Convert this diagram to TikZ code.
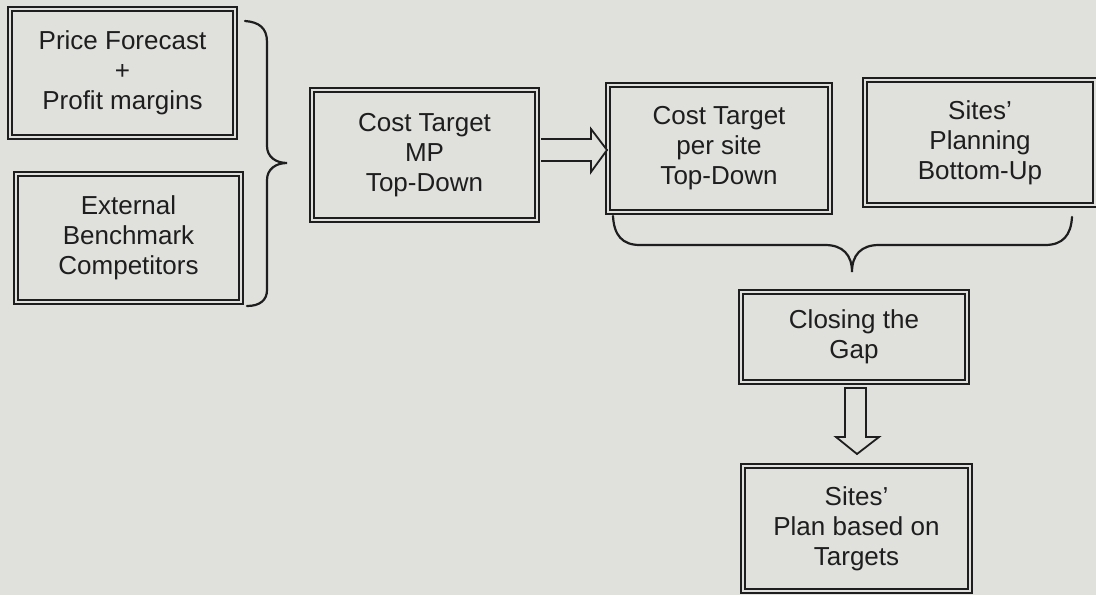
\documentclass[tikz,border=0pt]{standalone}
\usepackage{fontspec}
\setmainfont{Liberation Sans}
\definecolor{paper}{RGB}{224,224,220}
\definecolor{ink}{RGB}{30,30,30}
\begin{document}
\begin{tikzpicture}[x=1pt,y=-1pt,
  box/.style={draw=ink, line width=2.1pt, double=paper, double distance=2pt,
    align=center, inner sep=0pt, text=ink, font=\fontsize{26}{30}\selectfont},
  hollow/.style={draw=ink, line width=1.8pt, fill=paper, line join=miter},
  bracestyle/.style={draw=ink, line width=2.2pt, line cap=round}]
\fill[paper] (0,0) rectangle (1096,595);
\useasboundingbox (0,0) rectangle (1096,595);

\node[box, minimum width=225pt, minimum height=128pt] (b1) at (122.5,73) {Price Forecast\\+\\Profit margins};
\node[box, minimum width=225pt, minimum height=128pt] (b2) at (128.5,238) {External\\Benchmark\\Competitors};
\node[box, minimum width=225pt, minimum height=130pt] (b3) at (424.5,155) {Cost Target\\MP\\Top-Down};
\node[box, minimum width=222pt, minimum height=127pt] (b4) at (719,148.5) {Cost Target\\per site\\Top-Down};
\node[box, minimum width=230pt, minimum height=125pt] (b5) at (980,142.5) {Sites’\\Planning\\Bottom-Up};
\node[box, minimum width=226pt, minimum height=90pt] (b6) at (854,337) {Closing the\\Gap};
\node[box, minimum width=227pt, minimum height=125pt] (b7) at (856.5,528.5) {Sites’\\Plan based on\\Targets};

% brace grouping b1 and b2
\draw[bracestyle] (245,21) .. controls (259,22) and (267,28) .. (267,42)
  -- (267,146) .. controls (267,157) and (276,163) .. (287,163)
  .. controls (276,163) and (267,169) .. (267,180)
  -- (267,290) .. controls (267,300) and (260,306) .. (247,306);

% hollow arrow b3 -> b4
\draw[hollow] (541,139) -- (591,139) -- (591,129) -- (607,150) -- (591,172) -- (591,161) -- (541,161);

% brace grouping b4 and b5
\draw[bracestyle] (613,216) .. controls (614,235) and (622,245) .. (640,245)
  -- (825,245) .. controls (843,245) and (852,255) .. (852,272)
  .. controls (852,255) and (861,245) .. (879,245)
  -- (1045,245) .. controls (1063,245) and (1071,235) .. (1072,217);

% hollow arrow b6 -> b7
\draw[hollow] (845,388) -- (866,388) -- (866,437) -- (879,437) -- (857,454) -- (836,437) -- (845,437) -- cycle;
\end{tikzpicture}
\end{document}
